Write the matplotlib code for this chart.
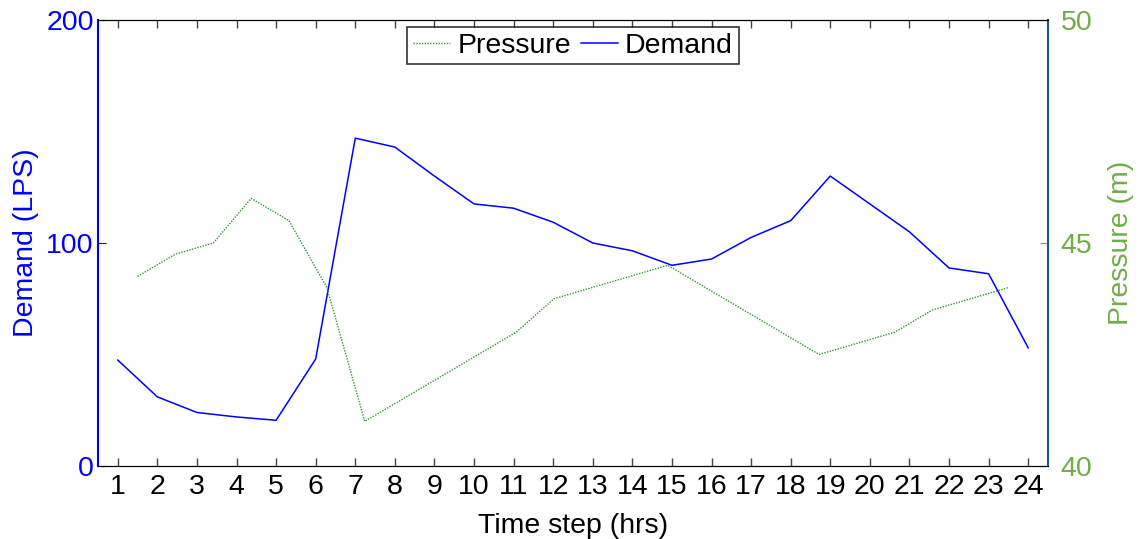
import numpy as np
import matplotlib.pyplot as plt

plt.rcParams['font.family'] = ['Liberation Sans', 'DejaVu Sans']

# Hourly demand (LPS), plotted at time steps 1..24
hours = np.arange(1, 25)
demand = [47.5, 31, 24, 22, 20.5, 48, 147, 143, 130, 117.5, 115.6, 109.3,
          100, 96.5, 90, 92.8, 102.5, 110, 130, 117.5, 105, 88.8, 86.2, 53]

# Pressure (m), sampled on a slightly shifted grid (1.5 .. 23.5)
pressure_x = np.linspace(1.5, 23.5, 24)
pressure = [44.25, 44.75, 45, 46, 45.5, 44, 41, 41.5, 42, 42.5, 43, 43.75,
            44, 44.25, 44.5, 44, 43.5, 43, 42.5, 42.75, 43, 43.5, 43.75, 44]

BLUE = '#0000ff'
GREEN = '#70ad47'
LINE_GREEN = '#2e9a2e'
FS = 20.5

fig = plt.figure(figsize=(11.38, 5.39), dpi=100)
ax1 = fig.add_axes([0.0861, 0.1354, 0.8348, 0.8276])
ax2 = ax1.twinx()

l2, = ax2.plot(pressure_x, pressure, color=LINE_GREEN, linestyle=(0, (1, 1)), linewidth=1.0, label='Pressure')
l1, = ax1.plot(hours, demand, color=BLUE, linewidth=1.1, label='Demand')

ax1.set_xlim(0.5, 24.5)
ax1.set_ylim(0, 200)
ax2.set_ylim(40, 50)
ax1.set_xticks(hours)
ax1.set_yticks([0, 100, 200])
ax2.set_yticks([40, 45, 50])

ax1.tick_params(axis='x', direction='in', top=True, length=6, width=1, colors='#444444',
                labelcolor='black', labelsize=FS, pad=6)
ax1.tick_params(axis='y', direction='in', length=6, colors=BLUE, labelsize=FS, pad=3)
ax2.tick_params(axis='y', direction='in', length=6, colors=GREEN, labelsize=FS, pad=9)

ax1.set_xlabel('Time step (hrs)', fontsize=FS, labelpad=9)
ax1.set_ylabel('Demand (LPS)', fontsize=FS, color=BLUE, labelpad=5)
ax2.set_ylabel('Pressure (m)', fontsize=FS, color=GREEN, labelpad=11)

for ax in (ax1, ax2):
    ax.spines['top'].set_color('black')
    ax.spines['bottom'].set_color('black')
ax1.spines['left'].set_color(BLUE)
ax1.spines['left'].set_linewidth(1.5)
ax2.spines['left'].set_visible(False)
ax2.spines['right'].set_color('#1f4f9f')
ax2.spines['right'].set_linewidth(1.5)
ax1.spines['right'].set_visible(False)

leg = ax2.legend(handles=[l2, l1], loc='upper center', bbox_to_anchor=(0.5, 0.984),
                 ncol=2, fontsize=FS, frameon=True, fancybox=False, borderpad=0.2,
                 handlelength=1.3, handletextpad=0.25, columnspacing=0.35, borderaxespad=0)
leg.get_frame().set_edgecolor('black')
leg.get_frame().set_linewidth(1.2)

fig.savefig('out.png', dpi=100)
